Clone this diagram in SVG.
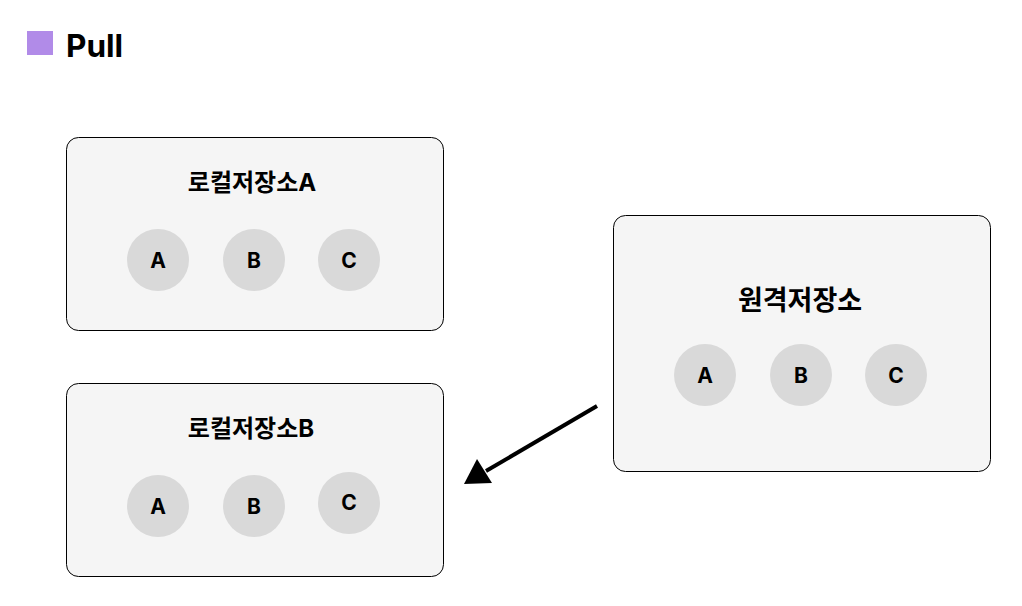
<svg xmlns="http://www.w3.org/2000/svg" width="1022" height="606" viewBox="0 0 1022 606">
<defs>
<style>
.box{fill:#f5f5f5;stroke:#000;stroke-width:1}
.dot{fill:#d9d9d9}
.t{font-family:Inter,"Noto Sans CJK KR","Liberation Sans",sans-serif;font-weight:700;fill:#000;text-anchor:middle}
.lbl{font-size:21px}
.ttl{font-size:24px}
</style>
</defs>
<rect width="1022" height="606" fill="#fff"/>
<g id="header">
<rect x="27" y="31" width="26" height="24" fill="#b18be8"/>
<text x="66" y="57" style="font-family:Inter,'Liberation Sans',sans-serif;font-weight:700;font-size:31.5px">Pull</text>
</g>
<g id="localA">
<rect class="box" x="66.5" y="137.5" width="377" height="193" rx="12"/>
<text class="t ttl" x="252" y="191">로컬저장소A</text>
<circle class="dot" cx="158" cy="260" r="31"/>
<circle class="dot" cx="254" cy="260" r="31"/>
<circle class="dot" cx="349" cy="260" r="31"/>
<text class="t lbl" x="158" y="267.5">A</text>
<text class="t lbl" x="254" y="267.5">B</text>
<text class="t lbl" x="349" y="267.5">C</text>
</g>
<g id="localB">
<rect class="box" x="66.5" y="383.5" width="377" height="193" rx="12"/>
<text class="t ttl" x="251" y="437">로컬저장소B</text>
<circle class="dot" cx="158" cy="506" r="31"/>
<circle class="dot" cx="254" cy="506" r="31"/>
<circle class="dot" cx="349" cy="503" r="31"/>
<text class="t lbl" x="158" y="513.5">A</text>
<text class="t lbl" x="254" y="513.5">B</text>
<text class="t lbl" x="349" y="510">C</text>
</g>
<g id="remote">
<rect class="box" x="613.5" y="215.5" width="377" height="256" rx="12"/>
<text class="t" style="font-size:27px" x="800" y="310">원격저장소</text>
<circle class="dot" cx="705" cy="375" r="31"/>
<circle class="dot" cx="801" cy="375" r="31"/>
<circle class="dot" cx="896" cy="375" r="31"/>
<text class="t lbl" x="705" y="382.5">A</text>
<text class="t lbl" x="801" y="382.5">B</text>
<text class="t lbl" x="896" y="382.5">C</text>
</g>
<g id="connectors">
<line x1="597" y1="406" x2="486" y2="471" stroke="#000" stroke-width="4"/>
<path d="M464,484 L477,459 L492,483 Z" fill="#000"/>
</g>
</svg>
